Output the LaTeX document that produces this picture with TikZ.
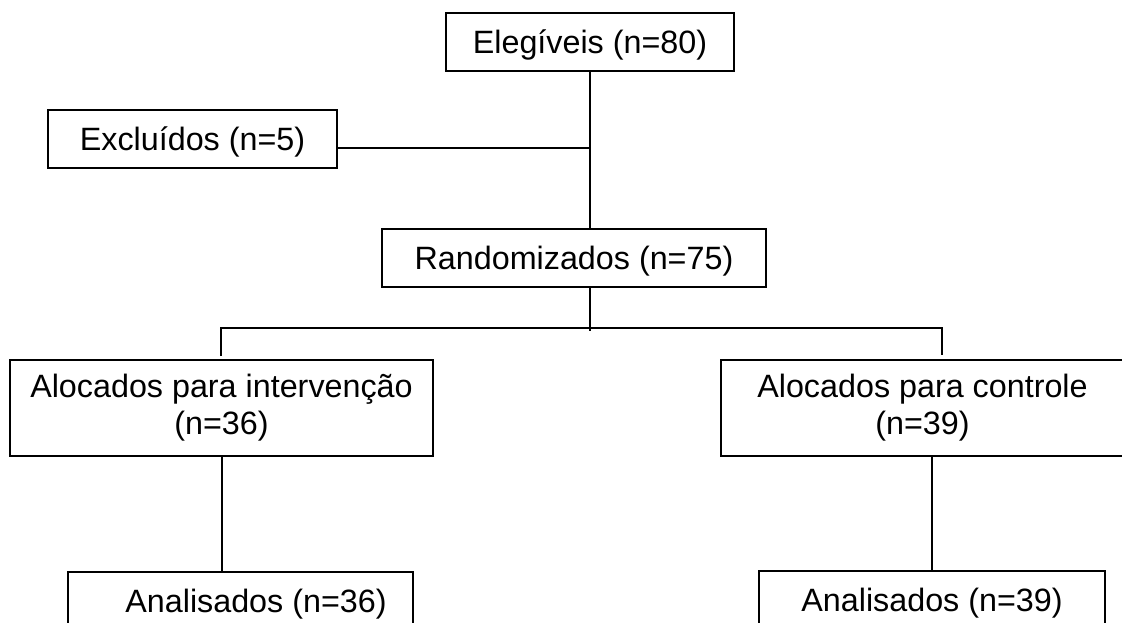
\documentclass[tikz,border=0pt]{standalone}
\usepackage{fontspec}
\setmainfont{Liberation Sans}
\begin{document}
\begin{tikzpicture}[x=1pt,y=-1pt,
  box/.style={draw, line width=1.8pt, inner sep=0pt, align=center,
    font=\fontsize{32.3}{37}\selectfont},
  onebox/.style={box, minimum height=58pt, text height=23.1pt, text depth=0pt},
  twobox/.style={box, minimum height=96pt},
  conn/.style={line width=1.8pt}]
\useasboundingbox (0,0) rectangle (1122,623);
\clip (0,0) rectangle (1122,623);
\node[onebox, minimum width=288pt] (elig) at (590,42) {Elegíveis (n=80)};
\node[onebox, minimum width=289pt] (excl) at (192.5,139) {Excluídos (n=5)};
\node[onebox, minimum width=384pt] (rand) at (574,258) {Randomizados (n=75)};
\node[twobox, minimum width=423pt] (aloci) at (221.5,408) {Alocados para intervenção\\(n=36)};
\node[twobox, minimum width=403pt] (alocc) at (922.5,408) {Alocados para controle\\(n=39)};
\node[onebox, minimum width=345pt] (anai) at (240.5,601) {\hspace*{31pt}Analisados (n=36)};
\node[onebox, minimum width=346pt] (anac) at (932,600) {Analisados (n=39)};
% connectors
\coordinate (ej) at (elig.south |- 0,148);
\coordinate (rtop) at (elig.south |- rand.north);
\coordinate (rbot) at (elig.south |- rand.south);
\coordinate (rend) at (590,331);
\coordinate (hl) at (221,328);
\coordinate (hr) at (942,328);
\coordinate (tl) at (221,356);
\coordinate (tr) at (942,355);
\coordinate (li) at (aloci.south -| 222,0);
\coordinate (ri) at (alocc.south -| anac.north);
\draw[conn] (elig.south) -- (rtop);
\draw[conn] ([yshift=-9pt]excl.east) -- (ej);
\draw[conn] (rbot) -- (rend);
\draw[conn] (tl) -- (hl) -- (hr) -- (tr);
\draw[conn] (li) -- (li |- anai.north);
\draw[conn] (ri) -- (anac.north);
\end{tikzpicture}
\end{document}
